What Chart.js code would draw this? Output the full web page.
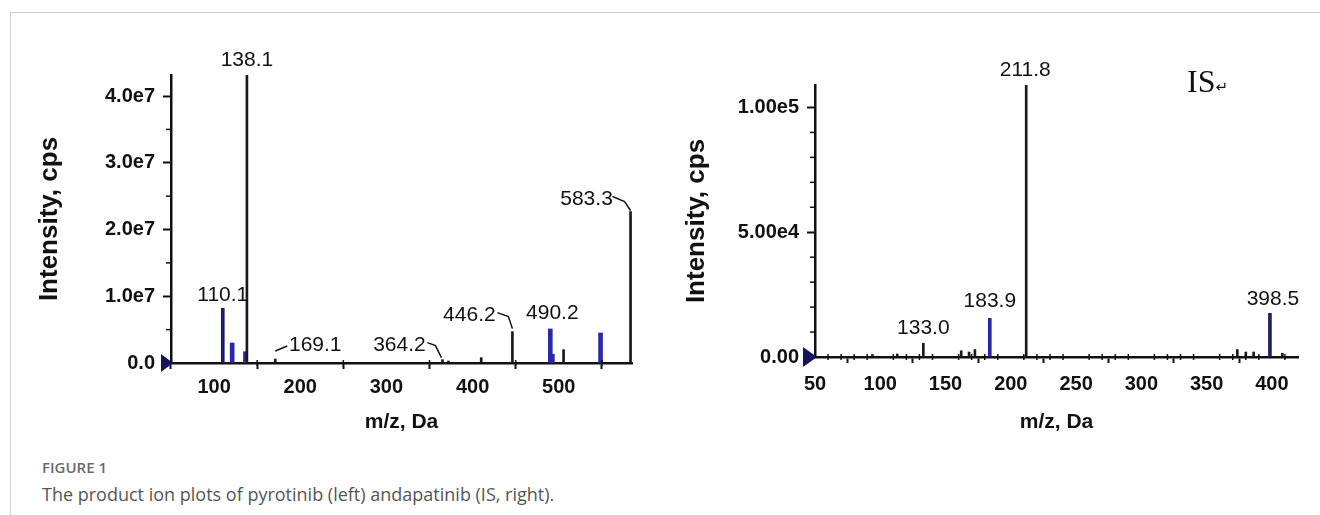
<!DOCTYPE html>
<html><head><meta charset="utf-8">
<script src="https://cdn.jsdelivr.net/npm/chart.js@4.4.1/dist/chart.umd.min.js"></script>
<style>
html,body{margin:0;padding:0;background:#fff;}
body{width:1320px;height:515px;position:relative;overflow:hidden;}
#frame{position:absolute;left:10px;top:12px;width:1330px;height:520px;border-left:1px solid #cfcfcf;border-top:1px solid #cfcfcf;}
canvas{position:absolute;top:0;}
#c1{left:0;}
#c2{left:660px;}
#is{position:absolute;left:1187px;top:65px;font-family:"Liberation Serif","Times New Roman",serif;font-size:32px;line-height:32px;color:#111;}
#is span{font-family:"DejaVu Sans",sans-serif;font-size:15px;}
#figlab{position:absolute;left:42px;top:460px;font-family:"Open Sans",sans-serif;font-weight:600;font-size:15px;line-height:15px;color:#6b6b6b;}
#cap{position:absolute;left:42px;top:485px;font-family:"Open Sans",sans-serif;font-size:18px;line-height:18px;color:#555;}
</style></head>
<body>
<div id="frame"></div>
<canvas id="c1" width="660" height="450" style="width:660px;height:450px"></canvas>
<canvas id="c2" width="660" height="450" style="width:660px;height:450px"></canvas>
<div id="is">IS<span>↵</span></div>
<div id="figlab">FIGURE 1</div>
<div id="cap">The product ion plots of pyrotinib (left) andapatinib (IS, right).</div>
<script>
// ================= DATA =================
// Left panel: pyrotinib product ions
const leftBlackMz  = [138.1, 171.0, 365.0, 372.0, 410.0, 446.2, 505.6, 583.3];
const leftBlackInt = [4.315e7, 0.06e7, 0.05e7, 0.03e7, 0.08e7, 0.47e7, 0.20e7, 2.27e7];
const leftNavyMz   = [110.1];
const leftNavyInt  = [0.82e7];
const leftBlueMz   = [121.0, 136.4, 490.2, 492.6, 548.5];
const leftBlueInt  = [0.30e7, 0.17e7, 0.51e7, 0.13e7, 0.45e7];
const leftXTicks      = [100, 200, 300, 400, 500];
const leftXTickLabels = ['100', '200', '300', '400', '500'];
const leftYTicks      = [0, 1e7, 2e7, 3e7, 4e7];
const leftYTickLabels = ['0.0', '1.0e7', '2.0e7', '3.0e7', '4.0e7'];
const leftPeakLabels   = ['138.1', '110.1', '169.1', '364.2', '446.2', '490.2', '583.3'];
const leftPeakLabelMz  = [138.1, 110.1, 171.0, 365.0, 446.2, 490.2, 583.3];
const leftPeakLabelInt = [4.315e7, 0.82e7, 0.06e7, 0.05e7, 0.47e7, 0.51e7, 2.27e7];

// Right panel: apatinib (IS) product ions
const rightBlackMz  = [94.0, 113.0, 133.0, 162.0, 168.0, 172.5, 211.8, 373.5, 380.0, 386.0, 408.0];
const rightBlackInt = [1.0e3, 1.2e3, 5.5e3, 2.5e3, 2.0e3, 3.0e3, 1.09e5, 3.0e3, 2.0e3, 2.0e3, 1.5e3];
const rightBlueMz   = [183.9];
const rightBlueInt  = [15.5e3];
const rightNavyMz   = [398.5];
const rightNavyInt  = [17.5e3];
const rightXTicks      = [50, 100, 150, 200, 250, 300, 350, 400];
const rightXTickLabels = ['50', '100', '150', '200', '250', '300', '350', '400'];
const rightYTicks      = [0, 5e4, 1e5];
const rightYTickLabels = ['0.00', '5.00e4', '1.00e5'];
const rightPeakLabels   = ['211.8', '183.9', '133.0', '398.5'];
const rightPeakLabelMz  = [211.8, 183.9, 133.0, 398.5];
const rightPeakLabelInt = [1.09e5, 15.5e3, 5.5e3, 17.5e3];

// ================= STYLE / LAYOUT =================
const FONT = '"Liberation Sans", Arial, sans-serif';
const INK = '#111';

const leftPlacement = [
  {dx: 0, dy: -15},
  {dx: 0, dy: -13},
  {dx: 40, dy: -14, leader: [[0, -8], [12, -13]]},
  {dx: -43, dy: -14, leader: [[-15, -17], [-7, -14], [-1, -2]]},
  {dx: -43, dy: -16, leader: [[-15, -19], [-4, -15], [0, -3]]},
  {dx: 2, dy: -16},
  {dx: -44, dy: -12, leader: [[-18, -15], [-6, -10], [0, -1]]}
];
const rightPlacement = [
  {dx: -1, dy: -15},
  {dx: 0, dy: -17},
  {dx: 0, dy: -15},
  {dx: 3, dy: -14}
];

function range(a, b, s, skip) {
  const out = [];
  for (let v = a; v <= b + 1e-9; v += s) { if (!skip.some(k => Math.abs(k - v) < 1e-6)) out.push(v); }
  return out;
}

function annotPlugin(spec) {
  return {
    id: 'annot',
    afterDatasetsDraw(chart) {
      const {ctx, chartArea} = chart;
      const x = chart.scales.x, y = chart.scales.y;
      const y0 = y.getPixelForValue(0);
      const x0 = chartArea.left;
      ctx.save();
      ctx.strokeStyle = INK;
      ctx.lineWidth = 1.5;
      spec.xMinor.forEach(v => {
        const px = x.getPixelForValue(v);
        ctx.beginPath(); ctx.moveTo(px, y0 - 3); ctx.lineTo(px, y0 + 3); ctx.stroke();
      });
      spec.yMinor.forEach(v => {
        const py = y.getPixelForValue(v);
        ctx.beginPath(); ctx.moveTo(x0 - 5, py); ctx.lineTo(x0, py); ctx.stroke();
      });
      // origin marker
      ctx.fillStyle = '#14145a';
      ctx.beginPath();
      ctx.moveTo(x0 - spec.tri.w, y0 - spec.tri.h / 2);
      ctx.lineTo(x0 - spec.tri.w, y0 + spec.tri.h / 2);
      ctx.lineTo(x0 + 2, y0);
      ctx.closePath(); ctx.fill();
      // peak labels
      ctx.font = '21px ' + FONT;
      ctx.fillStyle = INK;
      ctx.textAlign = 'center';
      ctx.textBaseline = 'middle';
      spec.labels.forEach((t, i) => {
        const px = x.getPixelForValue(spec.labelMz[i]);
        const py = y.getPixelForValue(spec.labelInt[i]);
        const p = spec.place[i];
        ctx.fillText(t, px + p.dx, py + p.dy);
        if (p.leader) {
          ctx.beginPath();
          p.leader.forEach((q, k) => { const X = px + q[0], Y = py + q[1]; if (k) ctx.lineTo(X, Y); else ctx.moveTo(X, Y); });
          ctx.lineWidth = 1.5; ctx.stroke();
        }
      });
      ctx.restore();
    }
  };
}

function ds(mz, inten, color, thick) {
  return {
    data: mz.map((m, i) => ({x: m, y: inten[i]})),
    backgroundColor: color, borderWidth: 0, barThickness: thick, grouped: false
  };
}

function makeChart(id, c) {
  return new Chart(document.getElementById(id), {
    type: 'bar',
    data: {datasets: c.datasets},
    options: {
      responsive: false, animation: false, devicePixelRatio: 1,
      layout: {padding: c.padding},
      plugins: {legend: {display: false}, tooltip: {enabled: false}},
      scales: {
        x: {
          type: 'linear', min: c.xMin, max: c.xMax, offset: false,
          afterBuildTicks: s => { s.ticks = c.xTicks.map(v => ({value: v})); },
          afterFit: s => { s.height = c.xHeight; },
          grid: {display: true, drawOnChartArea: false, drawTicks: true, tickLength: 6, tickWidth: 2, tickColor: INK},
          border: {display: true, color: INK, width: 2.5},
          ticks: {
            font: {family: FONT, size: 20, weight: 'bold'}, color: INK, padding: c.xTickPad,
            maxRotation: 0, autoSkip: false,
            callback: v => { const i = c.xTicks.indexOf(v); return i >= 0 ? c.xTickLabels[i] : ''; }
          },
          title: {display: true, text: 'm/z, Da', color: INK, font: {family: FONT, size: 21, weight: 'bold'}, padding: {top: 0, bottom: 15.4}}
        },
        y: {
          type: 'linear', min: 0, max: c.yMax,
          afterBuildTicks: s => { s.ticks = c.yTicks.map(v => ({value: v})); },
          afterFit: s => { s.width = c.yWidth; },
          grid: {display: true, drawOnChartArea: false, drawTicks: true, tickLength: 8, tickWidth: 2, tickColor: INK},
          border: {display: true, color: INK, width: 2.5},
          ticks: {
            font: {family: FONT, size: 20, weight: 'bold'}, color: INK, padding: 8, autoSkip: false,
            callback: v => { const i = c.yTicks.indexOf(v); return i >= 0 ? c.yTickLabels[i] : ''; }
          },
          title: {display: true, text: 'Intensity, cps', color: INK, font: {family: FONT, size: 26, weight: 'bold'}, padding: {top: c.yTitlePad, bottom: 0}}
        }
      }
    },
    plugins: [annotPlugin(c.annot)]
  });
}

makeChart('c1', {
  datasets: [
    ds(leftBlackMz, leftBlackInt, '#1a1a1a', 2),
    ds(leftNavyMz, leftNavyInt, '#1c1c6e', 3),
    ds(leftBlueMz, leftBlueInt, '#2a2aa8', 4)
  ],
  padding: {left: 0, top: 75, right: 28, bottom: 0},
  xMin: 50, xMax: 585, yMax: 4.315e7,
  xTicks: leftXTicks, xTickLabels: leftXTickLabels,
  yTicks: leftYTicks, yTickLabels: leftYTickLabels,
  xHeight: 87, yWidth: 171, xTickPad: 6, yTitlePad: 34.4,
  annot: {
    xMinor: range(150, 550, 100, []), yMinor: range(0.5e7, 4.0e7, 1e7, []),
    tri: {w: 10, h: 18},
    labels: leftPeakLabels, labelMz: leftPeakLabelMz, labelInt: leftPeakLabelInt, place: leftPlacement
  }
});

makeChart('c2', {
  datasets: [
    ds(rightBlackMz, rightBlackInt, '#1a1a1a', 2),
    ds(rightBlueMz, rightBlueInt, '#2626a6', 3),
    ds(rightNavyMz, rightNavyInt, '#20205e', 3)
  ],
  padding: {left: 0, top: 85, right: 22, bottom: 0},
  xMin: 50, xMax: 420, yMax: 1.09e5,
  xTicks: rightXTicks, xTickLabels: rightXTickLabels,
  yTicks: rightYTicks, yTickLabels: rightYTickLabels,
  xHeight: 93, yWidth: 155, xTickPad: 9, yTitlePad: 21.4,
  annot: {
    xMinor: range(60, 410, 10, rightXTicks), yMinor: range(1e4, 1.0e5, 1e4, [5e4, 1e5]),
    tri: {w: 12, h: 20},
    labels: rightPeakLabels, labelMz: rightPeakLabelMz, labelInt: rightPeakLabelInt, place: rightPlacement
  }
});
</script>
</body></html>
